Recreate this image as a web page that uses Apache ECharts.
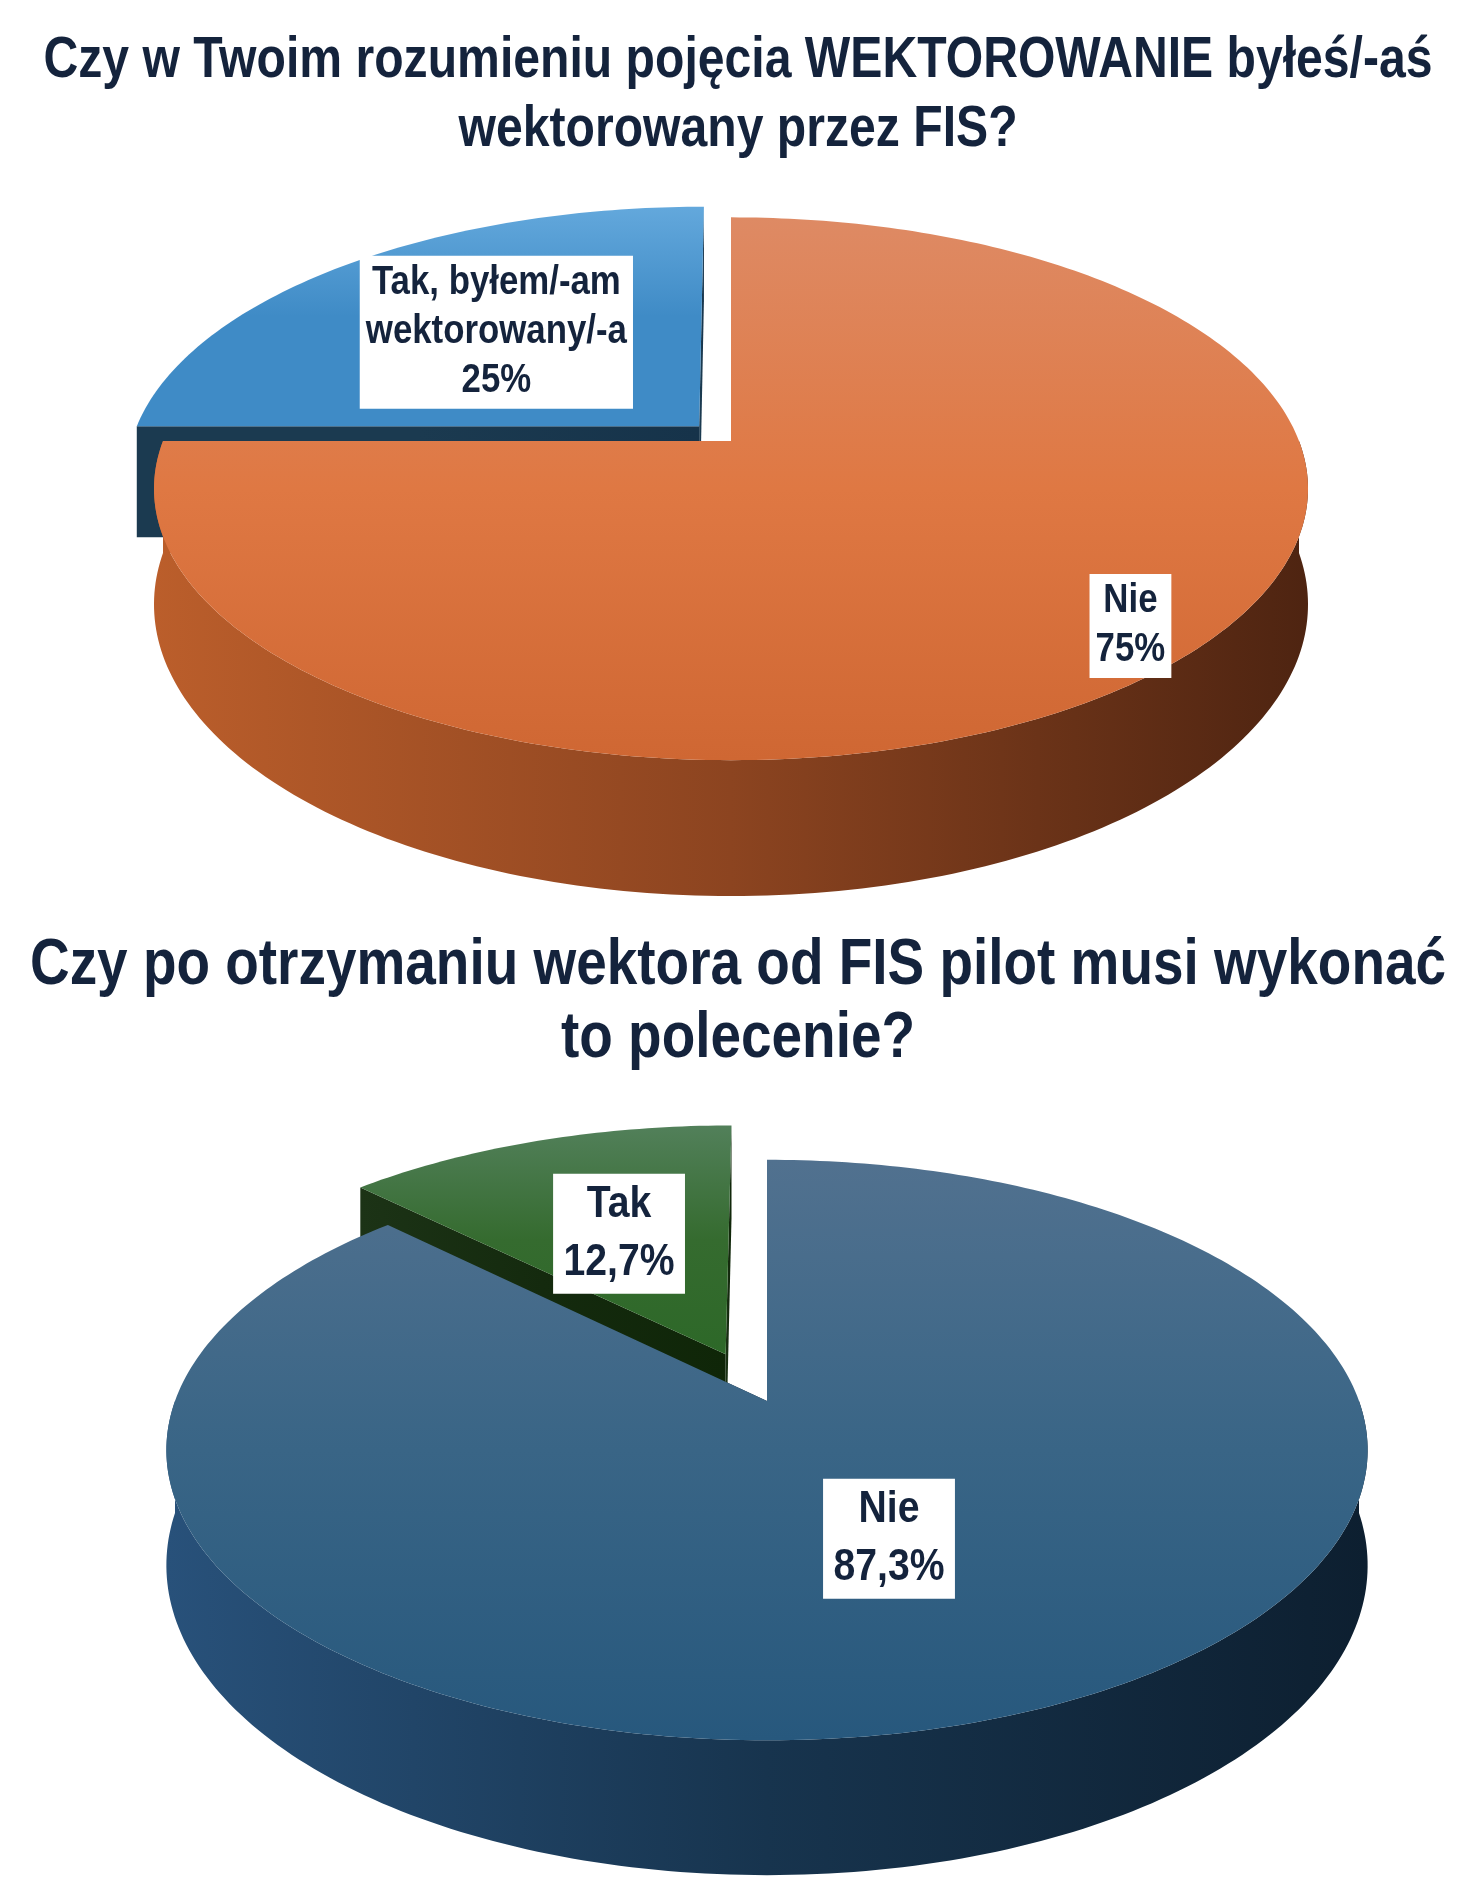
<!DOCTYPE html>
<html>
<head>
<meta charset="utf-8">
<script src="https://cdn.jsdelivr.net/npm/echarts@6/dist/echarts.min.js"></script>
<style>
  html, body { margin: 0; padding: 0; background: #fff; }
  #chart { width: 1476px; height: 1884px; }
</style>
</head>
<body>
<div id="chart"></div>
<script>
const titleTop = 'Czy w Twoim rozumieniu pojęcia WEKTOROWANIE byłeś/-aś\nwektorowany przez FIS?';
const titleBottom = 'Czy po otrzymaniu wektora od FIS pilot musi wykonać\nto polecenie?';

// pie 1 (clockwise from 12 o'clock)
const topNames = ['Nie', 'Tak, byłem/-am\nwektorowany/-a'];
const topValues = [75, 25];
const topLabels = ['75%', '25%'];

// pie 2
const bottomNames = ['Nie', 'Tak'];
const bottomValues = [87.3, 12.7];
const bottomLabels = ['87,3%', '12,7%'];

// no narrow font installed -> Arial-metric bold squeezed horizontally
const FONT = '"Liberation Sans", Arial, sans-serif';
const INK = '#14233c';

// layout of the fake 3D pies
const pieTop = {
  cx: 731, cy: 441, rx: 568, ry: 263, k: 0.176, depth: 112,
  explode: [0, 0.08],
  labelR: [0.885, 0.55],
  topFill: [['#de8a64', '#df7843', '#cf6733'], ['#63a8dc', '#3f8bc6', '#3f8bc6']],
  sideFill: [['#bb5e2b', '#8c4420', '#4e2411'], ['#1b3a50', '#1b3a50', '#16334a']],
  fontSize: 40, lineHeight: 49, padding: [3, 7], squeeze: 0.87
};
const pieBottom = {
  cx: 767, cy: 1401, rx: 592, ry: 282, k: 0.169, depth: 112,
  explode: [0, 0.185],
  labelR: [0.49, 0.53],
  topFill: [['#51718f', '#396586', '#27587d'], ['#52805a', '#356b2f', '#2d6828']],
  sideFill: [['#28517a', '#17344e', '#0d1f30'], ['#1c3316', '#142a0e', '#0f2608']],
  fontSize: 45, lineHeight: 58, padding: [2, 12], squeeze: 0.87
};

function grad(horizontal, colors) {
  const n = colors.length - 1;
  return new echarts.graphic.LinearGradient(0, 0, horizontal ? 1 : 0, horizontal ? 0 : 1,
    colors.map((c, j) => ({ offset: j / n, color: c })));
}

function makeRender(cfg, values, names, labels) {
  const total = values.reduce((a, b) => a + b, 0);
  const starts = [];
  let acc = 0;
  values.forEach(v => { starts.push(acc / total * 360); acc += v; });

  return function (params, api) {
    const i = params.dataIndex;
    const a0 = starts[i];
    const a1 = a0 + api.value(0) / total * 360;
    const mid = (a0 + a1) / 2 * Math.PI / 180;
    const e = cfg.explode[i];
    const ou = e * Math.sin(mid), ov = e * Math.cos(mid);

    // u to the right, v away from viewer; simple perspective squeeze
    const proj = (u, v, drop) => {
      const s = 1 / (1 + cfg.k * v);
      return [cfg.cx + cfg.rx * u * s, cfg.cy - cfg.ry * v * s + (drop ? cfg.depth * s : 0)];
    };
    const rim = (deg, drop) => {
      const t = deg * Math.PI / 180;
      return proj(Math.sin(t) + ou, Math.cos(t) + ov, drop);
    };
    const arc = (from, to, drop) => {
      const pts = [];
      const step = from < to ? 1 : -1;
      for (let d = from; step > 0 ? d < to : d > to; d += step) pts.push(rim(d, drop));
      pts.push(rim(to, drop));
      return pts;
    };

    const apex = proj(ou, ov, false);
    const apexLow = proj(ou, ov, true);
    const children = [];

    // cut faces
    [a0, a1].forEach(a => {
      children.push({
        type: 'polygon', z2: 1,
        shape: { points: [apex, rim(a, false), rim(a, true), apexLow] },
        style: { fill: grad(true, cfg.sideFill[i]) }
      });
    });

    // outer wall, only the front half shows
    const lo = Math.max(a0, 90), hi = Math.min(a1, 270);
    if (lo < hi) {
      children.push({
        type: 'polygon', z2: 2,
        shape: { points: arc(lo, hi, false).concat(arc(hi, lo, true)) },
        style: { fill: grad(true, cfg.sideFill[i]) }
      });
    }

    // top face
    children.push({
      type: 'polygon', z2: 10,
      shape: { points: [apex].concat(arc(a0, a1, false)) },
      style: { fill: grad(false, cfg.topFill[i]) }
    });

    // label box
    const r = cfg.labelR[i];
    const lp = proj(r * Math.sin(mid) + ou, r * Math.cos(mid) + ov, false);
    children.push({
      type: 'text', z2: 20, x: lp[0], y: lp[1], scaleX: cfg.squeeze,
      style: {
        text: names[i] + '\n' + labels[i],
        fill: INK,
        fontFamily: FONT, fontWeight: 'bold', fontSize: cfg.fontSize,
        lineHeight: cfg.lineHeight,
        align: 'center', verticalAlign: 'middle',
        backgroundColor: '#ffffff', padding: cfg.padding
      }
    });

    return { type: 'group', children };
  };
}

function titleText(text, y, size, lh, squeeze) {
  return {
    type: 'text', x: 738, y: y, scaleX: squeeze, silent: true,
    style: {
      text: text, fill: INK, fontFamily: FONT, fontWeight: 'bold',
      fontSize: size, lineHeight: lh, align: 'center', verticalAlign: 'middle'
    }
  };
}

const chart = echarts.init(document.getElementById('chart'));
chart.setOption({
  backgroundColor: '#ffffff',
  animation: false,
  graphic: [
    titleText(titleTop, 95, 58, 69, 0.83),
    titleText(titleBottom, 1003, 65, 73, 0.845)
  ],
  series: [
    {
      type: 'custom', coordinateSystem: 'none', silent: true,
      renderItem: makeRender(pieTop, topValues, topNames, topLabels),
      data: topValues.map((v, j) => ({ value: v, name: topNames[j] }))
    },
    {
      type: 'custom', coordinateSystem: 'none', silent: true,
      renderItem: makeRender(pieBottom, bottomValues, bottomNames, bottomLabels),
      data: bottomValues.map((v, j) => ({ value: v, name: bottomNames[j] }))
    }
  ]
});
</script>
</body>
</html>
